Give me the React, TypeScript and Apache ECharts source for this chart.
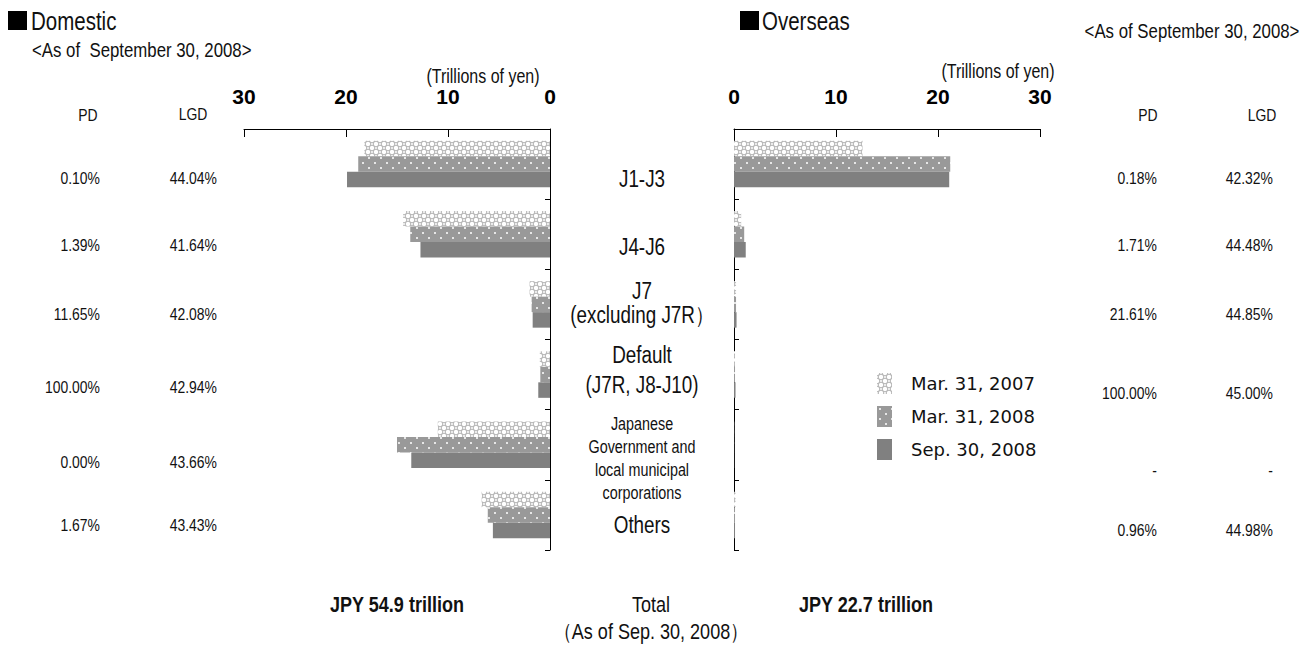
import React, { useEffect, useRef } from "react";
import * as echarts from "echarts";

// ---------- data ----------
const categories = [
  "J1-J3",
  "J4-J6",
  "J7 (excluding J7R)",
  "Default (J7R, J8-J10)",
  "Japanese Government and local municipal corporations",
  "Others",
];
const seriesNames = ["Mar. 31, 2007", "Mar. 31, 2008", "Sep. 30, 2008"];

const domesticMar07 = [18.2, 14.4, 2.0, 1.0, 11.0, 6.7];
const domesticMar08 = [18.8, 13.7, 1.8, 0.95, 15.0, 6.1];
const domesticSep08 = [19.9, 12.7, 1.7, 1.15, 13.6, 5.6];

const overseasMar07 = [12.6, 0.7, 0.2, 0.1, 0.02, 0.15];
const overseasMar08 = [21.2, 1.0, 0.2, 0.1, 0.02, 0.1];
const overseasSep08 = [21.1, 1.15, 0.25, 0.15, 0.02, 0.1];

const domesticPD = ["0.10%", "1.39%", "11.65%", "100.00%", "0.00%", "1.67%"];
const domesticLGD = ["44.04%", "41.64%", "42.08%", "42.94%", "43.66%", "43.43%"];
const overseasPD = ["0.18%", "1.71%", "21.61%", "100.00%", "-", "0.96%"];
const overseasLGD = ["42.32%", "44.48%", "44.85%", "45.00%", "-", "44.98%"];

const axisMin = 0;
const axisMax = 30;
const axisInterval = 10;

const domesticTotal = "JPY 54.9 trillion";
const overseasTotal = "JPY 22.7 trillion";

// category label lines (displayed text)
const categoryLabelLines: string[][] = [
  ["J1-J3"],
  ["J4-J6"],
  ["J7", "(excluding J7R）"],
  ["Default", "(J7R, J8-J10)"],
  ["Japanese", "Government and", "local municipal", "corporations"],
  ["Others"],
];

// ---------- layout ----------
const SANS = '"Liberation Sans", Arial, sans-serif';
const LEGEND_FONT = '"DejaVu Sans", sans-serif';
const NARROW_SCALE = 0.82;
const GRID_TOP = 129;
const GRID_H = 421;
const LEFT_GRID_X = 244;
const RIGHT_GRID_X = 734;
const GRID_W = 306;

const leftRowY = [178, 245, 314, 387, 462, 525];
const rightRowY = [178, 245, 314, 393, 470, 530];
const catLineY: number[][] = [
  [179],
  [247],
  [291, 315],
  [355, 385],
  [424, 447, 470, 493],
  [525],
];

function makeTile(w: number, h: number, draw: (ctx: CanvasRenderingContext2D) => void) {
  const c = document.createElement("canvas");
  c.width = w;
  c.height = h;
  const ctx = c.getContext("2d")!;
  draw(ctx);
  return c.toDataURL();
}

export default function App() {
  const ref = useRef<HTMLDivElement>(null);

  useEffect(() => {
    if (!ref.current) return;
    const chart = echarts.init(ref.current, undefined, { renderer: "svg" });

    const lattice = makeTile(8, 8, (ctx) => {
      ctx.fillStyle = "#ffffff";
      ctx.fillRect(0, 0, 8, 8);
      ctx.strokeStyle = "#b4b4b4";
      ctx.lineWidth = 1;
      const circ = (cx: number, cy: number) => {
        ctx.beginPath();
        ctx.arc(cx, cy, 2.8, 0, Math.PI * 2);
        ctx.stroke();
      };
      circ(4, 4);
      circ(0, 0);
      circ(8, 0);
      circ(0, 8);
      circ(8, 8);
    });
    const dotted = makeTile(12, 10, (ctx) => {
      ctx.fillStyle = "#999999";
      ctx.fillRect(0, 0, 12, 10);
      ctx.fillStyle = "#e6e6e6";
      ctx.fillRect(2, 2, 2, 2);
      ctx.fillRect(8, 7, 2, 2);
    });

    const fills: any[] = [
      { image: lattice, repeat: "repeat", imageWidth: 8, imageHeight: 8 },
      { image: dotted, repeat: "repeat", imageWidth: 12, imageHeight: 10 },
      "#808080",
    ];

    const domesticData = [domesticMar07, domesticMar08, domesticSep08];
    const overseasData = [overseasMar07, overseasMar08, overseasSep08];

    const series: any[] = [];
    seriesNames.forEach((name, i) => {
      series.push({
        name,
        type: "bar",
        xAxisIndex: 0,
        yAxisIndex: 0,
        data: domesticData[i],
        barWidth: 15.5,
        barGap: "0%",
        itemStyle: { color: fills[i] },
      });
    });
    seriesNames.forEach((name, i) => {
      series.push({
        name,
        type: "bar",
        xAxisIndex: 1,
        yAxisIndex: 1,
        data: overseasData[i],
        barWidth: 15.5,
        barGap: "0%",
        itemStyle: { color: fills[i] },
      });
    });

    const xAxisCommon = {
      type: "value",
      min: axisMin,
      max: axisMax,
      interval: axisInterval,
      position: "top",
      axisLine: { show: true, lineStyle: { color: "#000", width: 1 } },
      axisTick: { show: true, inside: true, length: 8, lineStyle: { color: "#000" } },
      axisLabel: {
        margin: 22,
        fontSize: 21,
        fontWeight: "bold",
        fontFamily: SANS,
        color: "#000",
      },
      splitLine: { show: false },
    };
    const yAxisCommon = {
      type: "category",
      data: categories,
      inverse: true,
      axisLine: { show: true, lineStyle: { color: "#000", width: 1 } },
      axisTick: { show: true, inside: true, length: 5, lineStyle: { color: "#000" } },
      axisLabel: { show: false },
      splitLine: { show: false },
    };

    // narrow (condensed) text emulated by horizontal scaling
    const txt = (
      text: string,
      x: number,
      y: number,
      size: number,
      align: string = "center",
      weight: string = "normal"
    ) => ({
      type: "text",
      x,
      y,
      scaleX: NARROW_SCALE,
      silent: true,
      style: {
        text,
        x: 0,
        y: 0,
        fill: "#111",
        fontSize: size,
        fontWeight: weight,
        fontFamily: SANS,
        textAlign: align,
        textVerticalAlign: "middle",
      },
    });

    const graphics: any[] = [];
    // headers
    graphics.push({ type: "rect", shape: { x: 8, y: 11, width: 19, height: 19 }, style: { fill: "#000" }, silent: true });
    graphics.push(txt("Domestic", 31, 21, 25, "left"));
    graphics.push({ type: "rect", shape: { x: 740, y: 11, width: 19, height: 19 }, style: { fill: "#000" }, silent: true });
    graphics.push(txt("Overseas", 762, 21, 25, "left"));
    graphics.push(txt("<As of  September 30, 2008>", 32, 50, 20.5, "left"));
    graphics.push(txt("<As of September 30, 2008>", 1192, 31, 20.5, "center"));
    graphics.push(txt("(Trillions of yen)", 483, 76, 19.5, "center"));
    graphics.push(txt("(Trillions of yen)", 998, 71, 19.5, "center"));
    graphics.push(txt("PD", 88, 115, 17, "center"));
    graphics.push(txt("LGD", 193, 114, 17, "center"));
    graphics.push(txt("PD", 1148, 115, 17, "center"));
    graphics.push(txt("LGD", 1262, 115, 17, "center"));

    // PD / LGD values
    domesticPD.forEach((v, i) => graphics.push(txt(v, 100, leftRowY[i], 17, "right")));
    domesticLGD.forEach((v, i) => graphics.push(txt(v, 217, leftRowY[i], 17, "right")));
    overseasPD.forEach((v, i) => graphics.push(txt(v, 1157, rightRowY[i], 17, "right")));
    overseasLGD.forEach((v, i) => graphics.push(txt(v, 1273, rightRowY[i], 17, "right")));

    // category labels
    categoryLabelLines.forEach((lines, i) => {
      const small = lines.length > 2;
      lines.forEach((line, j) => {
        graphics.push(txt(line, 642, catLineY[i][j], small ? 17.5 : 23, "center"));
      });
    });

    // totals
    graphics.push(txt(domesticTotal, 397, 604, 22, "center", "bold"));
    graphics.push(txt("Total", 651, 604, 22, "center"));
    graphics.push(txt("（As of Sep. 30, 2008）", 651, 631, 22, "center"));
    graphics.push(txt(overseasTotal, 866, 604, 22, "center", "bold"));

    chart.setOption({
      animation: false,
      backgroundColor: "#fff",
      grid: [
        { left: LEFT_GRID_X, top: GRID_TOP, width: GRID_W, height: GRID_H, containLabel: false },
        { left: RIGHT_GRID_X, top: GRID_TOP, width: GRID_W, height: GRID_H, containLabel: false },
      ],
      xAxis: [
        { ...xAxisCommon, gridIndex: 0, inverse: true },
        { ...xAxisCommon, gridIndex: 1 },
      ],
      yAxis: [
        { ...yAxisCommon, gridIndex: 0, position: "right" },
        { ...yAxisCommon, gridIndex: 1, position: "left" },
      ],
      legend: {
        data: seriesNames,
        orient: "vertical",
        left: 872,
        top: 368,
        itemWidth: 15,
        itemHeight: 21,
        itemGap: 12,
        icon: "rect",
        selectedMode: false,
        textStyle: {
          fontSize: 18,
          fontFamily: LEGEND_FONT,
          color: "#111",
          padding: [0, 0, 0, 14],
        },
      },
      series,
      graphic: graphics,
    });

    return () => chart.dispose();
  }, []);

  return (
    <div
      ref={ref}
      style={{ position: "fixed", left: 0, top: 0, width: 1309, height: 648, background: "#fff" }}
    />
  );
}
